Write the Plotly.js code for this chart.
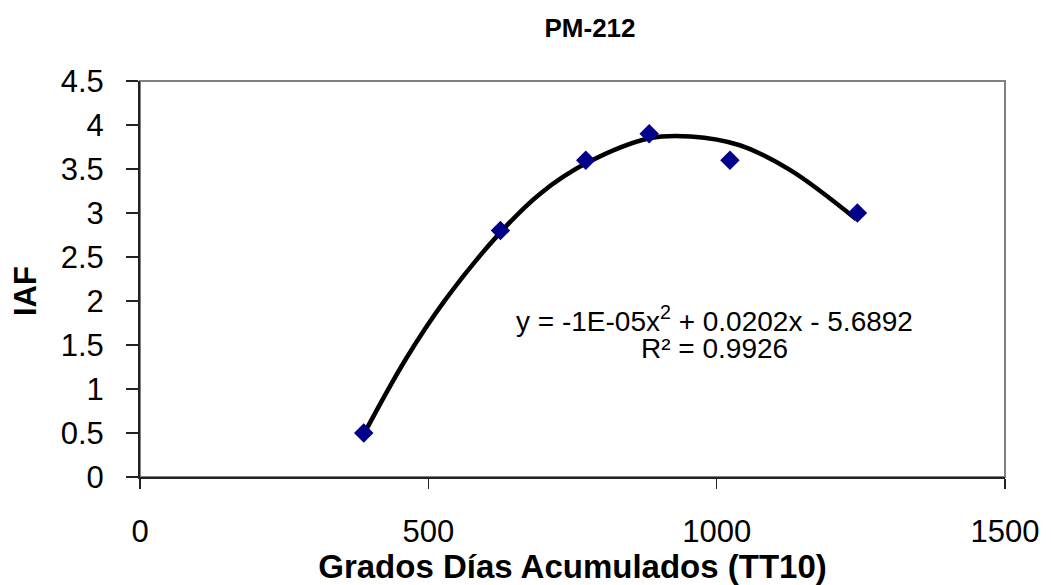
<!DOCTYPE html>
<html>
<head>
<meta charset="utf-8">
<script src="https://cdn.plot.ly/plotly-3.0.1.min.js"></script>
<style>html,body{margin:0;padding:0;background:#fff;}#chart{width:1051px;height:585px;}</style>
</head>
<body>
<div id="chart"></div>
<script>
// Observed data points (Grados Días Acumulados vs IAF)
const obsX = [388, 625, 773, 883, 1023, 1244];
const obsY = [0.5, 2.8, 3.6, 3.9, 3.6, 3.0];

// Trend curve, points
const trendX = [390, 460, 529, 625, 694, 775, 884, 955, 1040, 1127, 1242];
const trendY = [0.51, 1.33, 2.01, 2.78, 3.22, 3.57, 3.85, 3.87, 3.77, 3.49, 2.93];

const xTicks = [0, 500, 1000, 1500];
const yTicks = [0, 0.5, 1, 1.5, 2, 2.5, 3, 3.5, 4, 4.5];

const chartTitle = 'PM-212';
const xTitle = 'Grados Días Acumulados (TT10)';
const yTitle = 'IAF';
const equationLine = 'y = -1E-05x<sup>2</sup> + 0.0202x - 5.6892';
const r2Line = 'R² = 0.9926';

const font = 'Liberation Sans, Arial, sans-serif';

const traces = [
  {
    x: trendX, y: trendY, type: 'scatter', mode: 'lines',
    line: {color: '#000000', width: 4.5, shape: 'spline', smoothing: 1},
    hoverinfo: 'skip', showlegend: false
  },
  {
    x: obsX, y: obsY, type: 'scatter', mode: 'markers',
    marker: {symbol: 'diamond', size: 15, color: '#00008B'},
    showlegend: false
  }
];

const layout = {
  width: 1051, height: 585,
  margin: {l: 140, r: 46, t: 81, b: 108},
  paper_bgcolor: '#ffffff', plot_bgcolor: '#ffffff',
  showlegend: false,
  title: {text: '<b>' + chartTitle + '</b>', x: 590 / 1051, xanchor: 'center', y: 1 - 28 / 585, yanchor: 'middle',
          font: {family: font, size: 26, color: '#000'}},
  xaxis: {
    range: [0, 1500], tickvals: xTicks, ticktext: xTicks.map(String),
    showgrid: false, zeroline: false,
    showline: true, linecolor: '#222', linewidth: 2,
    ticks: 'outside', ticklen: 10, tickcolor: '#222', tickwidth: 1.5,
    ticklabelstandoff: 16,
    tickfont: {family: font, size: 31, color: '#000'},
    title: {text: '<b>' + xTitle + '</b>', font: {family: font, size: 33, color: '#000'}, standoff: 0}
  },
  yaxis: {
    range: [0, 4.5], tickvals: yTicks, ticktext: yTicks.map(String),
    showgrid: false, zeroline: false,
    showline: true, linecolor: '#222', linewidth: 2,
    ticks: 'outside', ticklen: 12, tickcolor: '#222', tickwidth: 1.5,
    ticklabelstandoff: 16,
    tickfont: {family: font, size: 31, color: '#000'}
  },
  shapes: [
    {type: 'rect', xref: 'paper', yref: 'paper', x0: 0, x1: 1, y0: 0, y1: 1,
     line: {color: '#808080', width: 2}, layer: 'below'}
  ],
  annotations: [
    {xref: 'paper', yref: 'paper', x: (25 - 140) / 865, y: (477 - 291) / 396, text: '<b>' + yTitle + '</b>',
     textangle: -90, showarrow: false, xanchor: 'center', yanchor: 'middle',
     font: {family: font, size: 31, color: '#000'}},
    {xref: 'x', yref: 'y', x: 997, y: 1.80, text: equationLine, showarrow: false,
     xanchor: 'center', yanchor: 'middle', font: {family: font, size: 28, color: '#000'}},
    {xref: 'x', yref: 'y', x: 996, y: 1.46, text: r2Line, showarrow: false,
     xanchor: 'center', yanchor: 'middle', font: {family: font, size: 28, color: '#000'}}
  ]
};

Plotly.newPlot('chart', traces, layout, {displayModeBar: false, staticPlot: true});
</script>
</body>
</html>
